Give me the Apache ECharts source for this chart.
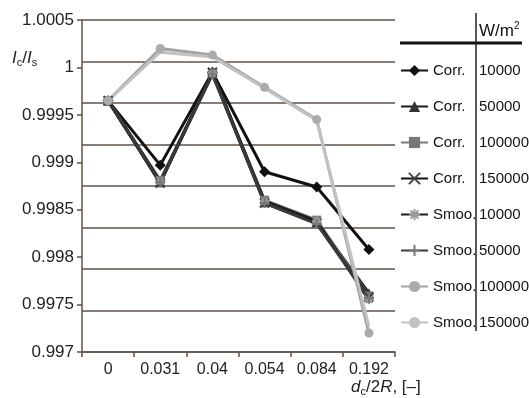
<!DOCTYPE html>
<html lang="en">
  <head>
    <meta charset="UTF-8" />
    <title>Ic/Is</title>
    <script src="https://cdn.jsdelivr.net/npm/echarts@6.0.0/dist/echarts.min.js"></script>
    <style>
      body { margin: 0; background: #fff; }
    </style>
  </head>
  <body>
    <div id="main" style="width: 529px; height: 398px"></div>
    <script type="text/javascript">
      // data
      const categories = ["0", "0.031", "0.04", "0.054", "0.084", "0.192"];
      const corr10000 = [0.99965, 0.99897, 0.99995, 0.9989, 0.99874, 0.99808];
      const corr50000 = [0.99965, 0.99879, 0.99993, 0.99858, 0.99837, 0.99762];
      const corr100000 = [0.99965, 0.99881, 0.99994, 0.9986, 0.99839, 0.99759];
      const corr150000 = [0.99965, 0.99878, 0.99995, 0.99857, 0.99836, 0.99758];
      const smoo10000 = [0.99965, 0.9988, 0.99994, 0.99859, 0.99838, 0.99755];
      const smoo50000 = [0.99965, 0.99879, 0.99993, 0.99857, 0.99835, 0.99757];
      const smoo100000 = [0.99965, 1.0002, 1.00013, 0.99979, 0.99945, 0.9972];
      const smoo150000 = [0.99965, 1.00016, 1.00011, 0.99978, 0.99944, 0.99727];
      const yMin = 0.997;
      const yMax = 1.0005;
      const yStep = 0.0005;

      const axisColor = "#5f524a";
      const xPath = "path://M0,0L10,10M10,0L0,10";
      const starPath = "path://M5,0L5,10M0,5L10,5M1.5,1.5L8.5,8.5M8.5,1.5L1.5,8.5";
      const plusPath = "path://M5,0L5,10M0,5L10,5";

      function line(name, data, color, symbol, size, symColor, stroke) {
        return {
          name: name,
          type: "line",
          data: data,
          symbol: symbol,
          symbolSize: size,
          showSymbol: symbol !== "none",
          lineStyle: { color: color, width: 3 },
          itemStyle: stroke
            ? { color: "transparent", borderColor: symColor, borderWidth: 2 }
            : { color: symColor, borderWidth: 0 },
          animation: false,
        };
      }

      let options = {
        backgroundColor: "#fff",
        textStyle: { fontFamily: "Liberation Sans" },
        grid: { left: 82, right: 134, top: 20, bottom: 46 },
        xAxis: {
          type: "category",
          data: categories,
          boundaryGap: true,
          axisLine: { lineStyle: { color: axisColor, width: 1.5 } },
          axisTick: { show: true, length: 5, lineStyle: { color: axisColor, width: 1.5 } },
          axisLabel: { color: "#222", fontSize: 16, margin: 10 },
          name: "{i|d}{s|c}{n|/2}{i|R}{n|, [–]}",
          nameLocation: "end",
          nameGap: -44,
          nameTextStyle: {
            align: "left",
            verticalAlign: "top",
            padding: [26, 0, 0, 0],
            rich: {
              i: { fontSize: 17, fontStyle: "italic", color: "#222" },
              s: { fontSize: 11, color: "#222", padding: [8, 0, 0, 0] },
              n: { fontSize: 17, color: "#222" },
            },
          },
        },
        yAxis: [
          {
            type: "value",
            min: yMin,
            max: yMax,
            interval: yStep,
            axisLine: { show: true, lineStyle: { color: axisColor, width: 1.5 } },
            axisTick: { show: true, length: 5, lineStyle: { color: axisColor, width: 1.5 } },
            splitLine: { show: false },
            axisLabel: {
              color: "#222",
              fontSize: 17,
              margin: 8,
              formatter: (v) => String(parseFloat(v.toFixed(4))),
            },
          },
          {
            // horizontal rules of the original figure
            type: "value",
            position: "left",
            min: 0,
            max: 8,
            interval: 1,
            axisLine: { show: false },
            axisTick: { show: false },
            axisLabel: { show: false },
            splitLine: { show: true, lineStyle: { color: axisColor, width: 1.5 } },
          },
        ],
        legend: {
          orient: "vertical",
          left: 400,
          top: 63,
          padding: 0,
          itemWidth: 27,
          itemHeight: 14,
          itemGap: 21,
          textStyle: {
            fontSize: 15,
            color: "#111",
            rich: {
              a: { fontSize: 15, width: 46, color: "#111" },
              b: { fontSize: 15, color: "#111" },
            },
          },
          formatter: (name) => {
            const p = name.split(" ");
            return "{a|" + p[0] + "}{b|" + p[1] + "}";
          },
        },
        graphic: [
          {
            type: "text",
            left: 12,
            top: 50,
            style: {
              text: "{i|I}{s|c}{n|/}{i|I}{s|s}",
              rich: {
                i: { fontSize: 17, fontStyle: "italic", fill: "#222" },
                s: { fontSize: 11, fill: "#222", padding: [8, 0, 0, 0] },
                n: { fontSize: 17, fill: "#222" },
              },
            },
          },
          {
            type: "text",
            left: 479,
            top: 21,
            style: {
              text: "{n|W/m}{p|2}",
              rich: {
                n: { fontSize: 17, fill: "#111" },
                p: { fontSize: 10, fill: "#111", padding: [0, 0, 10, 0] },
              },
            },
          },
          {
            type: "line",
            shape: { x1: 400, y1: 43, x2: 522, y2: 43 },
            style: { stroke: "#111", lineWidth: 3 },
          },
          {
            type: "line",
            shape: { x1: 476, y1: 13, x2: 476, y2: 331 },
            style: { stroke: "#222", lineWidth: 1.5 },
          },
        ],
        series: [
          line("Corr. 10000", corr10000, "#111", "diamond", 11, "#111"),
          line("Corr. 50000", corr50000, "#1a1a1a", "triangle", 10, "#333"),
          line("Corr. 100000", corr100000, "#7a7a7a", "rect", 9, "#777"),
          line("Corr. 150000", corr150000, "#111", xPath, 9, "#444", true),
          line("Smoo. 10000", smoo10000, "#1c1c1c", starPath, 9, "#999", true),
          line("Smoo. 50000", smoo50000, "#3a3a3a", plusPath, 10, "#777", true),
          line("Smoo. 100000", smoo100000, "#a3a3a3", "circle", 9, "#aaa"),
          line("Smoo. 150000", smoo150000, "#c2c2c2", "none", 0, "#c2c2c2"),
        ],
      };

      let myChart = echarts.init(document.getElementById("main"));
      myChart.setOption(options);
    </script>
  </body>
</html>
